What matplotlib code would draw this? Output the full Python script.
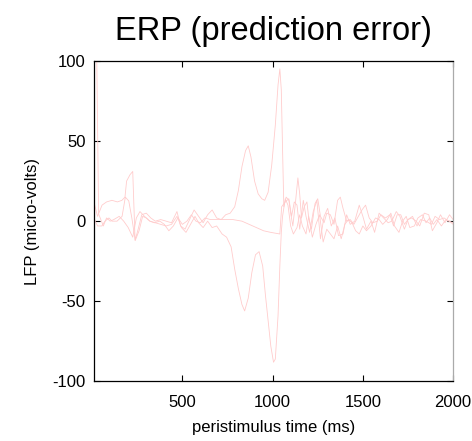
import matplotlib
matplotlib.use("Agg")
import matplotlib.pyplot as plt
import numpy as np

plt.rcParams['font.family'] = ['Liberation Sans', 'DejaVu Sans']

# Evoked responses (micro-volts) over peristimulus time (ms), one trace per source
pos_t = [10, 30, 55, 80, 110, 140, 165, 182, 191, 210, 225, 238, 255, 275, 300, 325, 350, 380,
         410, 440, 470, 490, 515, 540, 565, 590, 615, 640, 665, 690, 715, 740, 765, 790, 810,
         830, 850, 865, 880, 900, 920, 940, 956, 975, 995, 1015, 1030, 1040, 1048, 1056, 1062,
         1075, 1090, 1100, 1112, 1125, 1140, 1150, 1160, 1175, 1190, 1200, 1215, 1235, 1250,
         1265, 1285, 1300, 1320, 1340, 1360, 1375, 1390, 1410, 1430, 1450, 1475, 1495, 1515,
         1535, 1555, 1580, 1600, 1625, 1650, 1670, 1690, 1710, 1730, 1750, 1775, 1800, 1820,
         1850, 1880, 1900, 1925, 1950, 1975, 2000]
pos_v = [12, 3, 10, 12, 13, 12, 13, 15, 25, 29, 31, -12, -5, 4, 5, 2, 0, 1,
         0, -1, 6, -3, -5, 1, 7, 3, -1, 4, 7, 2, 1, 4, 5, 9, 19,
         34, 44, 47, 40, 25, 17, 14, 13, 18, 35, 60, 85, 95, 82, 40, 9,
         15, 13, 5, -3, 10, 27, 17, 2, 9, 12, 2, -5, 11, 14,
         3, -1, 5, 4, -2, 13, 15, 8, 0, 1, -2, 3, 7, 10,
         2, -1, 0, 4, 2, 4, -3, 4, 4, -2, 1, 3, -3, 1,
         0, -2, 3, 1, 2, 0, -1]

neg_t = [10, 30, 54, 71, 93, 110, 138, 166, 184, 203, 220, 239, 260, 280, 300, 320, 345,
         375, 400, 425, 450, 475, 495, 520, 545, 570, 590, 615, 640, 665, 690, 720, 745, 770,
         790, 810, 830, 845, 865, 885, 905, 925, 945, 960, 975, 990, 1005, 1015, 1030, 1040,
         1048, 1055, 1070, 1085, 1100, 1115, 1135, 1150, 1165, 1185, 1200, 1220, 1240, 1260,
         1280, 1300, 1320, 1340, 1360, 1380, 1400, 1420, 1440, 1460, 1480, 1500, 1520, 1545,
         1570, 1590, 1610, 1635, 1655, 1675, 1700, 1720, 1740, 1760, 1785, 1805, 1830, 1850,
         1870, 1890, 1910, 1935, 1960, 1980, 2000]
neg_v = [2, -3, -3, 0, 2, 0, 0, 3, 15, 12.6, 2, -12, -6, 3, 2, 0, -1,
         0, -2, -6, -3, 2, -4, -7, -2, 3, -1, -4, 0, -4, -3, -8, -10, -16,
         -30, -42, -52, -56, -48, -32, -21, -19, -28, -46, -62, -78, -88, -86, -59, -28,
         -7, 3, 14, 10, -3, -8, -4, 4, -3, -8, 3, -10, -2, 4,
         -13, -5, -8, -11, -3, -11, -2, 1, -1, -6, -8, -3, -6, -3,
         2, 1, -2, 1, 5, -3, -7, 0, 3, -4, -3, 2, 4, -1,
         2, -2, 1, -3, 1, 0, -2]

drift_t = [10, 36, 62, 80, 100, 120, 150, 175, 200, 225, 245, 265, 290, 320, 350, 380, 410,
           440, 470, 500, 525, 550, 575, 600, 625, 655, 690, 730, 780, 830, 870, 910, 950,
           990, 1040, 1050, 1070, 1090, 1105, 1120, 1135, 1150, 1170, 1185, 1205, 1225, 1245,
           1265, 1285, 1305, 1325, 1345, 1365, 1390, 1410, 1430, 1455, 1480, 1500, 1520, 1545,
           1565, 1590, 1615, 1640, 1660, 1685, 1705, 1730, 1750, 1770, 1795, 1815, 1840, 1865,
           1885, 1910, 1930, 1955, 1980, 2000]
drift_v = [250, 4.5, -3, 2, 0, 1, 3, 0, -4, -10, 2, 6, 3, 0, -1, -2, -3,
           -2, 3, -2, 0, 4, 0, -1, 2, 1, 1, 1, 1, 0, -2, -4, -6,
           -7, -8, 9, 12, 14, 3, 12, 10, -5, 13, 3, -7, 6, 13,
           -11, 3, 8, -3, 2, -9, -8, 4, -2, 0, 10, 3, -5, 0,
           -7, 5, 2, -1, 0, 6, 3, -5, 1, 2, 0, -3, 5, 4,
           -6, -1, 4, -1, 4, 1]

x_ticks = [500, 1000, 1500, 2000]
y_ticks = [-100, -50, 0, 50, 100]

fig = plt.figure(figsize=(4.72, 4.41), dpi=100)
ax = fig.add_axes([0.199, 0.135, 0.761, 0.727])

trace_color = '#ffcccc'
for t, v in [(pos_t, pos_v), (neg_t, neg_v), (drift_t, drift_v)]:
    ax.plot(t, v, color=trace_color, linewidth=0.6)

ax.set_xlim(10, 2000)
ax.set_ylim(-100, 100)
ax.set_xticks(x_ticks)
ax.set_xticklabels([str(v) for v in x_ticks])
ax.set_yticks(y_ticks)
ax.set_yticklabels([str(v) for v in y_ticks])
ax.tick_params(direction='in', length=4, width=0.8, top=True, right=True,
               labelsize=12, colors='black')
ax.tick_params(axis='x', pad=10)
ax.tick_params(axis='y', pad=6)
for side in ['left', 'bottom', 'top']:
    ax.spines[side].set_color('black')
    ax.spines[side].set_linewidth(0.9)
ax.spines['right'].set_color('#aaaaaa')
ax.spines['right'].set_linewidth(0.9)

ax.set_title('ERP (prediction error)', fontsize=23.5, pad=15)
ax.set_xlabel('peristimulus time (ms)', fontsize=12, labelpad=7)
ax.set_ylabel('LFP (micro-volts)', fontsize=12, labelpad=9)

fig.savefig('out.png', dpi=100)
